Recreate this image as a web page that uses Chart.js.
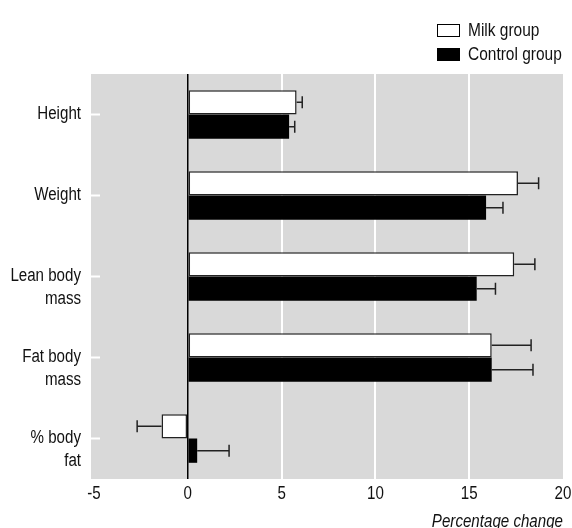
<!DOCTYPE html>
<html lang="en">

<head>
  <meta charset="UTF-8" />
  <title>Milk group vs control group</title>
  <style>
    html, body { margin: 0; padding: 0; background: #fff; overflow: hidden; }
    .wrap { position: relative; width: 572px; height: 545px; }
    .legend {
      position: absolute; left: 437px; top: 18px;
      font-family: "Liberation Sans", Arial, sans-serif;
      font-size: 18px; color: #111;
    }
    .legend .item { display: flex; align-items: center; height: 24px; }
    .legend .box { width: 21px; height: 11px; border: 1px solid #000; margin-right: 8px; flex: none; }
    /* no condensed face installed, so squeeze the regular one */
    .legend .txt { display: inline-block; transform: scaleX(0.86); transform-origin: left center; white-space: nowrap; }
  </style>
</head>

<body>
  <div class="wrap">
    <canvas id="chart" width="572" height="545"></canvas>
    <div class="legend">
      <div class="item"><span class="box" style="background:#fff"></span><span class="txt">Milk group</span></div>
      <div class="item"><span class="box" style="background:#000"></span><span class="txt">Control group</span></div>
    </div>
  </div>

  <script src="https://cdn.jsdelivr.net/npm/chart.js"></script>
  <script>
    // data
    const categories = [["Height"], ["Weight"], ["Lean body", "mass"], ["Fat body", "mass"], ["% body", "fat"]];
    const milkValues = [5.8, 17.6, 17.4, 16.2, -1.4];
    const milkErrors = [0.3, 1.1, 1.1, 2.1, 1.3];
    const controlValues = [5.4, 15.9, 15.4, 16.2, 0.5];
    const controlErrors = [0.3, 0.9, 1.0, 2.2, 1.7];
    const xTicks = [-5, 0, 5, 10, 15, 20];

    const FONT = '"Liberation Sans", Arial, sans-serif';
    const SQUEEZE = 0.84;

    // pad single line labels so every label starts at its tick
    const labels = categories.map(l => l.length === 1 ? [l[0], ''] : l);

    const canvas = document.getElementById('chart');
    const ctx = canvas.getContext('2d');

    // fake a condensed font: draw every text horizontally squeezed around its anchor
    const fill = ctx.fillText.bind(ctx);
    ctx.fillText = function (text, x, y, maxWidth) {
      ctx.save();
      ctx.translate(x, y);
      ctx.scale(SQUEEZE, 1);
      if (maxWidth === undefined) fill(text, 0, 0);
      else fill(text, 0, 0, maxWidth / SQUEEZE);
      ctx.restore();
    };

    // grey panel + small white ticks on the left edge
    const panel = {
      id: 'panel',
      beforeDraw(chart) {
        const { ctx, chartArea: a } = chart;
        ctx.save();
        ctx.fillStyle = '#d9d9d9';
        ctx.fillRect(a.left - 3, a.top, a.right - a.left + 3, a.bottom - a.top);
        ctx.restore();
      },
      beforeDatasetsDraw(chart) {
        const { ctx, chartArea: a } = chart;
        const y = chart.scales.y;
        ctx.save();
        ctx.strokeStyle = '#fff';
        ctx.lineWidth = 2;
        y.ticks.forEach((t, i) => {
          const py = y.getPixelForTick(i);
          ctx.beginPath();
          ctx.moveTo(a.left - 3, py);
          ctx.lineTo(a.left + 6, py);
          ctx.stroke();
        });
        ctx.restore();
      }
    };

    // one sided error bars
    const errorBars = {
      id: 'errorBars',
      afterDatasetsDraw(chart) {
        const { ctx } = chart;
        const x = chart.scales.x;
        ctx.save();
        ctx.strokeStyle = '#222';
        ctx.lineWidth = 1.5;
        chart.data.datasets.forEach((ds, i) => {
          const meta = chart.getDatasetMeta(i);
          meta.data.forEach((bar, j) => {
            const v = ds.data[j];
            const end = x.getPixelForValue(v + Math.sign(v) * ds.errors[j]);
            ctx.beginPath();
            ctx.moveTo(bar.x, bar.y);
            ctx.lineTo(end, bar.y);
            ctx.moveTo(end, bar.y - 6);
            ctx.lineTo(end, bar.y + 6);
            ctx.stroke();
          });
        });
        ctx.restore();
      }
    };

    const chart = new Chart(ctx, {
      type: 'bar',
      data: {
        labels: labels,
        datasets: [
          {
            label: 'Milk group',
            data: milkValues,
            errors: milkErrors,
            backgroundColor: '#fff',
            borderColor: '#222',
            borderWidth: 1.5,
            borderSkipped: false
          },
          {
            label: 'Control group',
            data: controlValues,
            errors: controlErrors,
            backgroundColor: '#000',
            borderWidth: 0
          }
        ]
      },
      options: {
        indexAxis: 'y',
        responsive: false,
        animation: false,
        datasets: { bar: { categoryPercentage: 0.6, barPercentage: 1 } },
        layout: { padding: { top: 74, right: 9, left: 0, bottom: 0 } },
        plugins: {
          legend: { display: false },
          tooltip: { enabled: false }
        },
        scales: {
          x: {
            min: -5,
            max: 20,
            afterBuildTicks: s => { s.ticks = xTicks.map(v => ({ value: v })); },
            afterFit: s => { s.height = 66; s.paddingLeft = 0; s.paddingRight = 0; },
            border: { display: false },
            grid: {
              drawTicks: false,
              color: c => c.tick.value === 0 ? '#000' : (c.tick.value === -5 || c.tick.value === 20 ? 'rgba(0,0,0,0)' : '#fff'),
              lineWidth: c => c.tick.value === 0 ? 1.5 : 2
            },
            ticks: {
              color: '#111',
              padding: 4,
              font: { family: FONT, size: 18, lineHeight: 1.25 }
            },
            title: {
              display: true,
              text: 'Percentage change',
              align: 'end',
              color: '#111',
              padding: { top: 0, bottom: 12 },
              font: { family: FONT, size: 18, style: 'italic', lineHeight: 1.2 }
            }
          },
          y: {
            afterFit: s => { s.width = 94; },
            border: { display: false },
            grid: { display: false, drawTicks: false },
            ticks: {
              color: '#111',
              padding: 13,
              labelOffset: 11,
              font: { family: FONT, size: 18, lineHeight: 1.25 }
            }
          }
        }
      },
      plugins: [panel, errorBars]
    });
  </script>
</body>

</html>
